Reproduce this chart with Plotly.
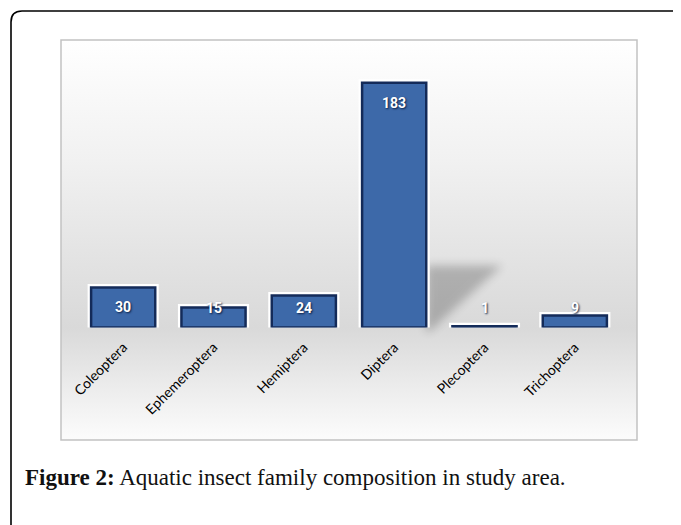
import base64
import plotly.graph_objects as go

# ---- data ----
categories = ["Coleoptera", "Ephemeroptera", "Hemiptera", "Diptera", "Plecoptera", "Trichoptera"]
counts = [30, 15, 24, 183, 1, 9]
caption_bold = "Figure 2:"
caption_text = "Aquatic insect family composition in study area."

# ---- layout geometry (page pixels) ----
PW, PH = 681, 525
OFF = 8                      # default body margin of the html page
FW, FH = PW - OFF, PH - OFF  # figure size
X0, X1 = 78, 620             # category axis extent (page px)
BASE, TOP = 327.5, 60.1      # page y of 0 and of y-range max
YMAX = 200
BARGAP = 0.29
scale = (BASE - TOP) / YMAX
step = (X1 - X0) / len(categories)


def px(x):
    return (x - OFF) / FW


def py(y):
    return 1 - (y - OFF) / FH


# shadow cast by the tallest bar, derived from the bar geometry
imax = counts.index(max(counts))
bar_right = X0 + (imax + 0.5) * step + step * (1 - BARGAP) / 2
sh = (f"{bar_right:.1f},{BASE-62:.1f} {bar_right+76:.1f},{BASE-62:.1f} "
      f"{bar_right+3:.1f},{BASE+4:.1f} {bar_right:.1f},{BASE+4:.1f}")

svg = f'''<svg xmlns="http://www.w3.org/2000/svg" width="{FW}" height="{FH}" viewBox="0 0 {FW} {FH}">
<defs>
<linearGradient id="g" x1="0" y1="0" x2="0" y2="1">
<stop offset="0" stop-color="#ffffff"/>
<stop offset="0.3" stop-color="#f1f1f1"/>
<stop offset="0.72" stop-color="#d9d9d9"/>
<stop offset="0.86" stop-color="#ebebeb"/>
<stop offset="1" stop-color="#fcfcfc"/>
</linearGradient>
<filter id="b" x="-50%" y="-50%" width="200%" height="200%"><feGaussianBlur stdDeviation="5"/></filter>
</defs>
<g transform="translate({-OFF},{-OFF})">
<path d="M11,{PH+10} L11,22 Q11,11 22,11 L{PW+10},11" fill="none" stroke="#000" stroke-width="1.6"/>
<rect x="61" y="40" width="576" height="400" fill="url(#g)" stroke="#c2c2c2" stroke-width="1.5"/>
<polygon points="{sh}" fill="#000" opacity="0.22" filter="url(#b)"/>
</g>
</svg>'''
src = "data:image/svg+xml;base64," + base64.b64encode(svg.encode()).decode()

fig = go.Figure()
# white glow behind bars
fig.add_trace(go.Bar(x=categories, y=counts, marker=dict(color="white", line=dict(color="white", width=7)),
                     hoverinfo="skip", showlegend=False))
fig.add_trace(go.Bar(x=categories, y=counts, marker=dict(color="#3d69a9", line=dict(color="#142b59", width=2.5)),
                     showlegend=False))

# data labels
min_lbl = 40 / scale
for c, v in zip(categories, counts):
    fig.add_annotation(x=c, y=max(v, min_lbl), yshift=-20, text=f"<b>{v}</b>", showarrow=False,
                       font=dict(family="Roboto", size=14, color="white", shadow="1px 1px 2px #0b1f44"),
                       xref="x", yref="y")

fig.add_annotation(x=px(23), y=py(477), xref="paper", yref="paper", xanchor="left", yanchor="middle",
                   showarrow=False, text=f"<b>{caption_bold}</b> {caption_text}",
                   font=dict(family="Liberation Serif", size=23, color="#111"))

fig.update_layout(
    width=FW, height=FH, margin=dict(l=0, r=0, t=0, b=0),
    paper_bgcolor="white", plot_bgcolor="rgba(0,0,0,0)",
    barmode="overlay", bargap=BARGAP,
    images=[dict(source=src, xref="paper", yref="paper", x=0, y=1, sizex=1, sizey=1,
                 xanchor="left", yanchor="top", sizing="stretch", layer="below")],
    xaxis=dict(domain=[px(X0), px(X1)], tickangle=-45, showgrid=False, showline=False, zeroline=False,
               ticks="", tickfont=dict(family="Lato", size=14, color="black"), automargin=False,
               ticklabelstandoff=8),
    yaxis=dict(domain=[py(BASE), py(TOP)], range=[0, YMAX], visible=False, automargin=False),
    showlegend=False,
)
fig.write_html("out.html")
